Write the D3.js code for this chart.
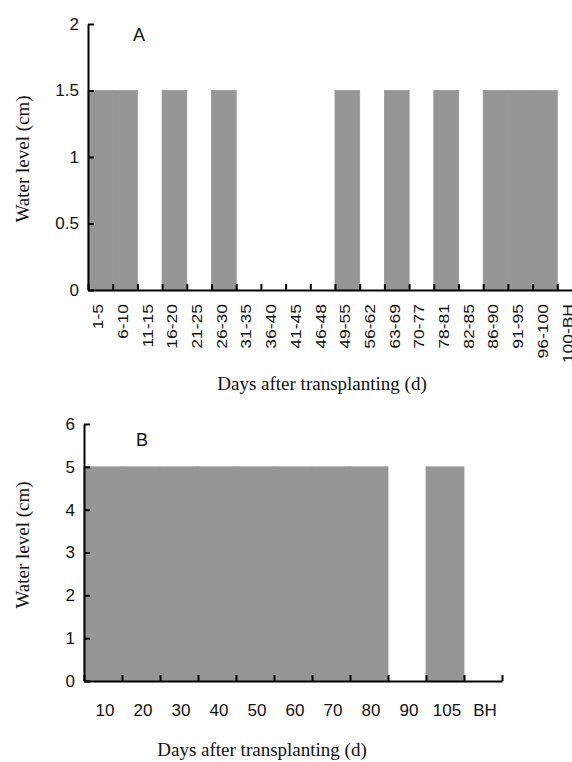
<!DOCTYPE html>
<html>
<head>
<meta charset="utf-8">
<script src="https://cdn.jsdelivr.net/npm/d3@7"></script>
<style>
  html, body { margin: 0; padding: 0; background: #fff; }
  svg { display: block; overflow: hidden; }
  .sans { font-family: "Liberation Sans", Arial, sans-serif; }
  .serif { font-family: "Liberation Serif", "Times New Roman", serif; }
</style>
</head>
<body>
<div id="chart"></div>
<script>
/** Data **/
const periodsA = ['1-5', '6-10', '11-15', '16-20', '21-25', '26-30', '31-35', '36-40',
  '41-45', '46-48', '49-55', '56-62', '63-69', '70-77', '78-81', '82-85',
  '86-90', '91-95', '96-100', '100-BH'];
const levelsA = [1.5, 1.5, 0, 1.5, 0, 1.5, 0, 0, 0, 0, 1.5, 0, 1.5, 0, 1.5, 0, 1.5, 1.5, 1.5, 0];
const yTicksA = [0, 0.5, 1, 1.5, 2];

const daysB = ['10', '20', '30', '40', '50', '60', '70', '80', '90', '105', 'BH'];
const levelsB = [5, 5, 5, 5, 5, 5, 5, 5, 0, 5, 0];
const yTicksB = [0, 1, 2, 3, 4, 5, 6];

const barColor = '#969696';
const W = 572, H = 762;

const svg = d3.select('#chart')
  .append('svg')
  .attr('width', W)
  .attr('height', H);

/** Draw one panel **/
function panel(opts) {
  const { cats, vals, yTicks, yMax, x0, x1, yTop, yBottom, letter, letterPos,
    rotateLabels, labelY, titleY, titleX, yTitleY } = opts;

  const x = d3.scaleBand().domain(cats).range([x0, x1]).padding(0);
  const y = d3.scaleLinear().domain([0, yMax]).range([yBottom, yTop]);
  const g = svg.append('g');

  // bars (stroked in the same grey so neighbours join without seams)
  g.append('g')
    .selectAll('rect')
    .data(cats.map((c, i) => ({ c, v: vals[i] })).filter((d) => d.v > 0))
    .join('rect')
    .attr('x', (d) => x(d.c))
    .attr('y', (d) => y(d.v))
    .attr('width', x.bandwidth())
    .attr('height', (d) => y(0) - y(d.v))
    .attr('fill', barColor)
    .attr('stroke', barColor)
    .attr('stroke-width', 0.8);

  // x axis: tick marks on band edges, pointing up
  const edges = d3.scaleLinear().domain([0, cats.length]).range([x0, x1]);
  const xAxis = g.append('g')
    .attr('transform', `translate(0, ${y(0)})`)
    .call(d3.axisBottom(edges)
      .tickValues(d3.range(0, cats.length + 1))
      .tickSizeInner(-6)
      .tickSizeOuter(0)
      .tickFormat(''));
  xAxis.select('.domain').attr('stroke-width', 2);
  xAxis.selectAll('.tick line').attr('stroke-width', 2);

  // x labels
  const lab = g.append('g').attr('class', 'sans').attr('fill', '#111');
  if (rotateLabels) {
    lab.selectAll('text')
      .data(cats)
      .join('text')
      .attr('transform', (d) =>
        `translate(${x(d) + x.bandwidth() / 2 - 2}, ${labelY}) rotate(-90) scale(1.25, 1)`)
      .attr('dy', '0.35em')
      .attr('text-anchor', 'end')
      .attr('font-size', 14)
      .text((d) => d);
  } else {
    lab.selectAll('text')
      .data(cats)
      .join('text')
      .attr('x', (d) => x(d) + x.bandwidth() / 2 + 2)
      .attr('y', labelY)
      .attr('dy', '0.35em')
      .attr('text-anchor', 'middle')
      .attr('font-size', 17)
      .text((d) => d);
  }

  // y axis: ticks pointing right, labels left
  const yAxis = g.append('g')
    .attr('transform', `translate(${x0}, 0)`)
    .call(d3.axisLeft(y)
      .tickValues(yTicks)
      .tickSizeInner(-6)
      .tickSizeOuter(0)
      .tickPadding(9)
      .tickFormat((d) => d));
  yAxis.select('.domain').attr('stroke-width', 2);
  yAxis.selectAll('.tick line').attr('stroke-width', 2);
  yAxis.selectAll('text')
    .attr('class', 'sans')
    .attr('font-size', 17)
    .attr('fill', '#111');

  // panel letter
  g.append('text')
    .attr('class', 'sans')
    .attr('x', letterPos[0])
    .attr('y', letterPos[1])
    .attr('font-size', 18)
    .attr('fill', '#111')
    .text(letter);

  // axis titles
  g.append('text')
    .attr('class', 'serif')
    .attr('x', titleX)
    .attr('y', titleY)
    .attr('text-anchor', 'middle')
    .attr('font-size', 19)
    .attr('fill', '#111')
    .text('Days after transplanting (d)');

  g.append('text')
    .attr('class', 'serif')
    .attr('transform', `translate(29, ${yTitleY}) rotate(-90)`)
    .attr('text-anchor', 'middle')
    .attr('font-size', 19)
    .attr('fill', '#111')
    .text('Water level (cm)');
}

panel({
  cats: periodsA, vals: levelsA, yTicks: yTicksA, yMax: 2,
  x0: 88, x1: 88 + 24.7 * periodsA.length, yTop: 24, yBottom: 290,
  letter: 'A', letterPos: [133, 41], rotateLabels: true, labelY: 304,
  titleX: 322, titleY: 390, yTitleY: 159
});

panel({
  cats: daysB, vals: levelsB, yTicks: yTicksB, yMax: 6,
  x0: 84, x1: 502, yTop: 424, yBottom: 681,
  letter: 'B', letterPos: [136, 446], rotateLabels: false, labelY: 710,
  titleX: 262, titleY: 756, yTitleY: 545
});
</script>
</body>
</html>
